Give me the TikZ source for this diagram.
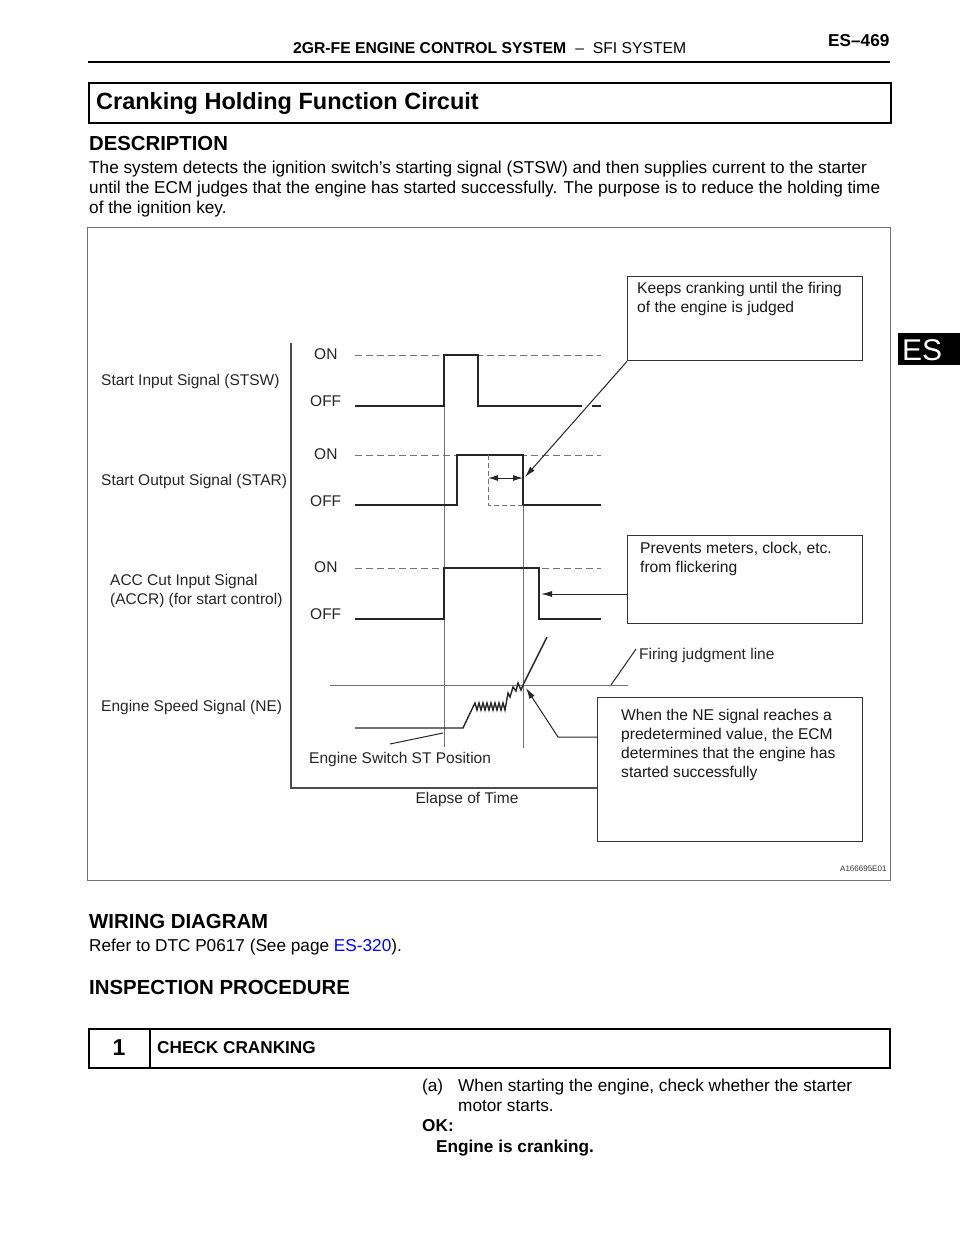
\documentclass[tikz,border=0pt]{standalone}
\usepackage{fontspec}
\setmainfont{Liberation Sans}
\usetikzlibrary{arrows.meta}
\newcommand\fsz[1]{\fontsize{#1}{#1}\selectfont}
\begin{document}
\begin{tikzpicture}[x=1pt,y=-1pt,
  txt/.style={inner sep=0,anchor=base west,font=\fsz{17.2}},
  lbl/.style={inner sep=0,anchor=base west,font=\fsz{15.5},text=black!85},
  sig/.style={line width=2pt,black!85,line join=miter},
  thinl/.style={line width=0.9pt,black!55},
  dsh/.style={line width=1pt,black!55,dash pattern=on 7pt off 4pt},
  callbox/.style={draw=black!80,line width=1.4pt,inner sep=0,anchor=north west},
  boxtxt/.style={inner sep=0,anchor=base west,font=\fsz{15.6},text=black!90},
  arr/.style={line width=1pt,black!85,-{Latex[length=11pt,width=6pt]}},
  lead/.style={line width=1pt,black!85}
]
\useasboundingbox (0,0) rectangle (960,1242);
\fill[white] (0,0) rectangle (960,1242);

% ---------- page header ----------
\node[txt,font=\fsz{15.7}\bfseries] (hdr) at (293,53) {2GR-FE ENGINE CONTROL SYSTEM};
\node[txt,font=\fsz{15.7}] (hdr2) at (hdr.base east) {\ \ –\ \ SFI SYSTEM};
\node[txt,font=\fsz{17.2}\bfseries] (pg) at (828,46.5) {ES–469};
\coordinate (rl) at (88,62); \coordinate (rr) at (890,62);
\draw[line width=2.2pt] (rl) -- (rr);

% ---------- title box ----------
\node[draw,line width=2.4pt,inner sep=0,anchor=north west,minimum width=802pt,minimum height=40pt] (tbox) at (88,82) {};
\node[txt,font=\fsz{23.5}\bfseries] (title) at (96,109) {Cranking Holding Function Circuit};

% ---------- description ----------
\node[txt,font=\fsz{20.3}\bfseries] (desc) at (89,150.5) {DESCRIPTION};
\node[txt] (p1) at (89,173) {The system detects the ignition switch\char"0027 s starting signal (STSW) and then supplies current to the starter};
\node[txt] (p2) at (89,193) {until the ECM judges that the engine has started successfully. The purpose is to reduce the holding time};
\node[txt] (p3) at (89,213) {of the ignition key.};

% ---------- ES tab ----------
\node[fill=black,inner sep=0,anchor=north west,minimum width=62pt,minimum height=32pt] (tab) at (898,333) {};
\node[txt,font=\fsz{30},text=white] (tabt) at (902,360.5) {ES};

% ---------- diagram frame ----------
\node[draw=black!55,line width=1pt,inner sep=0,anchor=north west,minimum width=803pt,minimum height=653pt] (frame) at (87,227) {};

% axis
\coordinate (ax1) at (291,343); \coordinate (ax2) at (291,788); \coordinate (ax3) at (597,788);
\draw[line width=1.2pt,black!70] (ax1) -- (ax2) -- (ax3);
\node[lbl,anchor=base] (elapse) at (467,803.5) {Elapse of Time};

% left labels
\node[lbl] (l1) at (101,385) {Start Input Signal (STSW)};
\node[lbl] (l2) at (101,485) {Start Output Signal (STAR)};
\node[lbl] (l3) at (110,585.5) {ACC Cut Input Signal};
\node[lbl] (l3b) at (110,604.5) {(ACCR) (for start control)};
\node[lbl] (l4) at (101,711) {Engine Speed Signal (NE)};

% ON / OFF
\node[lbl] (on1) at (314,359) {ON};
\node[lbl] (off1) at (310,406.5) {OFF};
\node[lbl] (on2) at (314,459) {ON};
\node[lbl] (off2) at (310,506) {OFF};
\node[lbl] (on3) at (314,572) {ON};
\node[lbl] (off3) at (310,619) {OFF};

% dashed ON levels
\coordinate (d1a) at (355,355); \coordinate (d1b) at (601,355);
\coordinate (d2a) at (355,455); \coordinate (d2b) at (601,455);
\coordinate (d3a) at (355,568); \coordinate (d3b) at (601,568);
\draw[dsh] (d1a) -- (d1b);
\draw[dsh] (d2a) -- (d2b);
\draw[dsh] (d3a) -- (d3b);

% vertical reference lines
\coordinate (v1a) at (444,355); \coordinate (v1b) at (444,747);
\coordinate (v2a) at (523,455); \coordinate (v2b) at (523,748);
\draw[thinl] (v1a) -- (v1b);
\draw[thinl] (v2a) -- (v2b);

% STSW
\draw[sig] (355,406) -- (444,406) -- (444,355) -- (478,355) -- (478,406) -- (582,406);
\draw[sig] (592,406) -- (601,406);

% STAR
\draw[sig] (355,505) -- (457,505) -- (457,455) -- (523,455) -- (523,505) -- (601,505);
\coordinate (db1) at (488,455); \coordinate (db2) at (488,505); \coordinate (db3) at (523,505);
\draw[dsh,dash pattern=on 5pt off 3pt] (db1) -- (db2) -- (db3);
\coordinate (da1) at (488,478); \coordinate (da2) at (523,478);
\draw[line width=1pt,black!85,{Latex[length=10pt,width=6pt]}-{Latex[length=10pt,width=6pt]}] (da1) -- (da2);

% ACCR
\draw[sig] (355,619) -- (444,619) -- (444,568) -- (539,568) -- (539,619) -- (601,619);

% NE
\coordinate (fj1) at (330,685); \coordinate (fj2) at (628,685);
\draw[thinl] (fj1) -- (fj2);
\draw[line width=1.4pt,black!85,line join=miter]
  (355,728) -- (463,728) -- (473,707)
  -- (475,703) -- (477,710) -- (479,703) -- (481,710) -- (483,703) -- (485,710)
  -- (487,703) -- (489,710) -- (491,703) -- (493,710) -- (495,703) -- (497,710)
  -- (499,703) -- (501,710) -- (503,703) -- (505,710)
  -- (508,693) -- (510,697) -- (513,687) -- (516,691) -- (518,683) -- (521,690)
  -- (523,685) -- (547,637);

% callout boxes
\node[callbox,minimum width=235pt,minimum height=84pt] (keep) at (627,276) {};
\node[boxtxt] (k1) at (637,293) {Keeps cranking until the firing};
\node[boxtxt] (k2) at (637,312) {of the engine is judged};

\node[callbox,minimum width=235pt,minimum height=88pt] (prev) at (627,535) {};
\node[boxtxt] (pv1) at (640,553) {Prevents meters, clock, etc.};
\node[boxtxt] (pv2) at (640,572) {from flickering};

\node[callbox,minimum width=265pt,minimum height=144pt] (nebox) at (597,697) {};
\node[boxtxt] (n1) at (621,720) {When the NE signal reaches a};
\node[boxtxt] (n2) at (621,739) {predetermined value, the ECM};
\node[boxtxt] (n3) at (621,758) {determines that the engine has};
\node[boxtxt] (n4) at (621,777) {started successfully};

% callout connectors
\coordinate (ka) at (525,477);
\draw[arr] (keep.south west) -- (ka);
\coordinate (ps) at (627,594); \coordinate (pa) at (541,594);
\draw[arr] (ps) -- (pa);
\coordinate (ns) at (597,737); \coordinate (nk) at (558,737); \coordinate (na) at (526,688);
\draw[arr] (ns) -- (nk) -- (na);

% firing judgment line label
\node[lbl] (fjl) at (639,659) {Firing judgment line};
\coordinate (fl1) at (611,685); \coordinate (fl2) at (636,649);
\draw[lead] (fl1) -- (fl2);

% engine switch label
\node[lbl] (es) at (309,763) {Engine Switch ST Position};
\coordinate (el1) at (443,733); \coordinate (el2) at (390,744);
\draw[lead] (el1) -- (el2);

\node[txt,font=\fsz{8},text=black!80] (code) at (840,871) {A166695E01};

% ---------- wiring diagram ----------
\node[txt,font=\fsz{20.4}\bfseries] (wd) at (89,928.5) {WIRING DIAGRAM};
\node[txt] (ref) at (89,951) {Refer to DTC P0617 (See page \textcolor{blue}{ES-320}).};
\node[txt,font=\fsz{20.4}\bfseries] (ip) at (89,994.5) {INSPECTION PROCEDURE};

% step box
\node[draw,line width=2.2pt,inner sep=0,anchor=north west,minimum width=801pt,minimum height=39pt] (sbox) at (88,1028) {};
\coordinate (sd1) at (150,1028); \coordinate (sd2) at (150,1067);
\draw[line width=1.6pt] (sd1) -- (sd2);
\node[txt,font=\fsz{23}\bfseries,anchor=base] (one) at (119,1055) {1};
\node[txt,font=\fsz{17.2}\bfseries] (cc) at (157,1053) {CHECK CRANKING};

\node[txt] (a) at (422,1091) {(a)};
\node[txt] (a1) at (458,1091) {When starting the engine, check whether the starter};
\node[txt] (a2) at (458,1111) {motor starts.};
\node[txt,font=\fsz{17.2}\bfseries] (ok) at (422,1131) {OK:};
\node[txt,font=\fsz{17.2}\bfseries] (ec) at (436,1152) {Engine is cranking.};
\end{tikzpicture}
\end{document}
